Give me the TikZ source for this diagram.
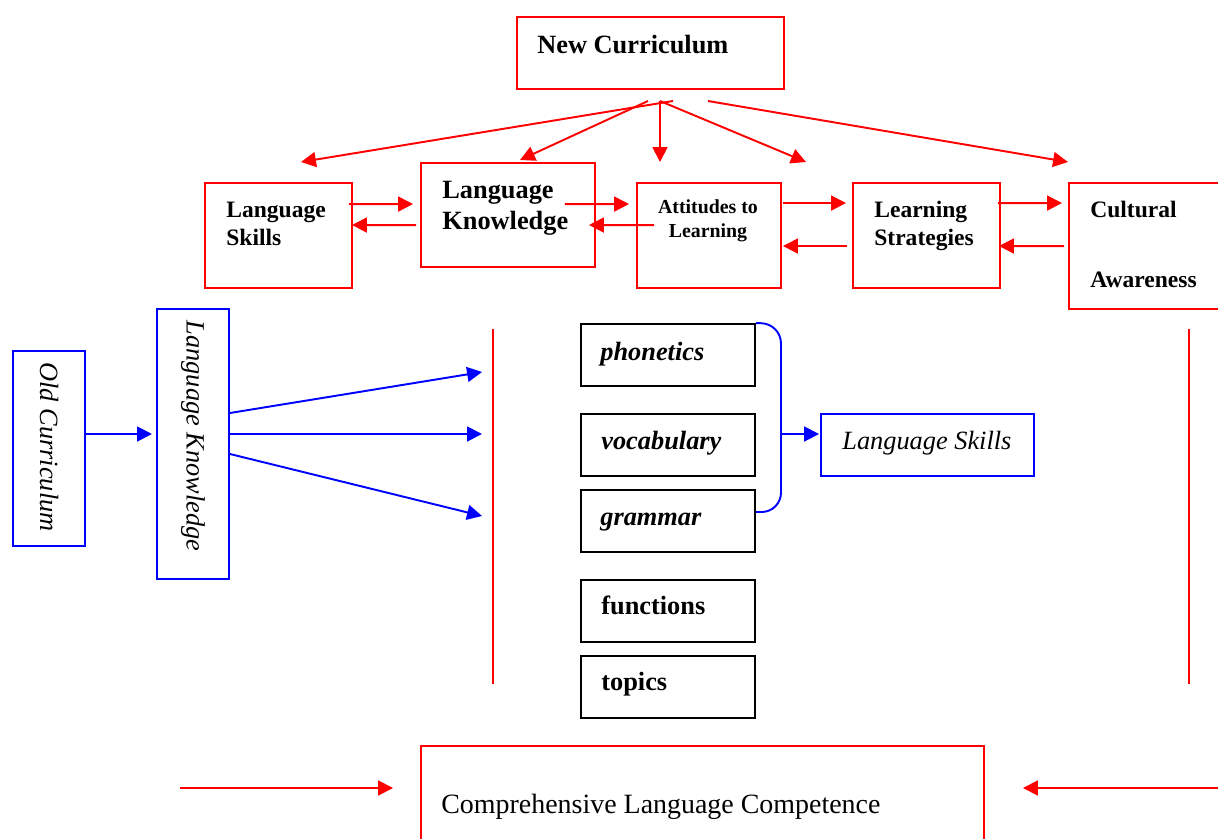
\documentclass[tikz,border=0pt]{standalone}
\usepackage{fontspec}
\setmainfont{Liberation Serif}
\usetikzlibrary{arrows.meta,fit,calc}
\tikzset{
  redbox/.style={draw=red, line width=1.1pt, inner sep=0pt},
  bluebox/.style={draw=blue, line width=1.1pt, inner sep=0pt},
  blackbox/.style={draw=black, line width=1.1pt, inner sep=0pt},
  redarrow/.style={red, line width=1.1pt, -{Triangle[length=8.5pt,width=8.5pt]}},
  bluearrow/.style={blue, line width=1.1pt, -{Triangle[length=8.5pt,width=8.5pt]}},
  redline/.style={red, line width=1.1pt},
  blueline/.style={blue, line width=1.1pt, rounded corners=11pt},
  bigbf/.style={anchor=base west, inner sep=0pt, font=\fontsize{15}{18}\selectfont\bfseries},
  midbf/.style={anchor=base west, inner sep=0pt, font=\fontsize{13.4}{16}\selectfont\bfseries},
  smallbf/.style={anchor=base, inner sep=0pt, font=\fontsize{11.3}{14}\selectfont\bfseries},
  bigbi/.style={anchor=base west, inner sep=0pt, font=\fontsize{15}{18}\selectfont\bfseries\itshape},
  bigit/.style={anchor=base west, inner sep=0pt, font=\fontsize{15}{18}\selectfont\itshape},
  rotit/.style={inner sep=0pt, rotate=-90, font=\fontsize{15}{18}\selectfont\itshape},
  bigrm/.style={anchor=base west, inner sep=0pt, font=\fontsize{15.9}{18}\selectfont}
}
\begin{document}
\begin{tikzpicture}[x=0.02cm, y=-0.02cm]
\useasboundingbox (0,0) rectangle (1218,839);

% new curriculum and its five parts
\node[redbox, fit={(517,17) (784,89)}] (nc) {};
\node[bigbf] (nc-t) at (537,53) {New Curriculum};

\node[redbox, fit={(205,183) (352,288)}] (ls) {};
\node[midbf] (ls-a) at (226,217) {Language};
\node[midbf] (ls-b) at (226,245) {Skills};
\node[redbox, fit={(421,163) (595,267)}] (lk) {};
\node[bigbf] (lk-a) at (442,198) {Language};
\node[bigbf] (lk-b) at (442,229) {Knowledge};
\node[redbox, fit={(637,183) (781,288)}] (att) {};
\node[smallbf] (att-a) at (708,213) {Attitudes to};
\node[smallbf] (att-b) at (708,237) {Learning};
\node[redbox, fit={(853,183) (1000,288)}] (lst) {};
\node[midbf] (lst-a) at (874,217) {Learning};
\node[midbf] (lst-b) at (874,245) {Strategies};
\node[redbox, fit={(1069,183) (1240,309)}] (ca) {};
\node[midbf] (ca-a) at (1090,217) {Cultural};
\node[midbf] (ca-b) at (1090,287) {Awareness};

\coordinate (nc-o1) at (648,101);
\coordinate (nc-o2) at (660,101);
\coordinate (nc-o3) at (673,101);
\coordinate (nc-o4) at (708,101);
\coordinate (ls-t) at (301,162);
\coordinate (lk-t) at (520,160);
\coordinate (att-t) at (660,162);
\coordinate (lst-t) at (806,162);
\coordinate (ca-t) at (1068,162);
\draw[redarrow] (nc-o3) -- (ls-t);
\draw[redarrow] (nc-o1) -- (lk-t);
\draw[redarrow] (nc-o2) -- (att-t);
\draw[redarrow] (nc-o2) -- (lst-t);
\draw[redarrow] (nc-o4) -- (ca-t);

\draw[redarrow] ($(ls.north east)+(-4,22)$) -- ($(lk.north west)+(-7,42)$);
\draw[redarrow] ($(lk.north west)+(-4,63)$) -- ($(ls.north east)+(-1,43)$);
\draw[redarrow] ($(lk.north east)+(-31,42)$) -- ($(att.north west)+(-7,22)$);
\draw[redarrow] ($(att.north west)+(18,43)$) -- ($(lk.north east)+(-7,63)$);
\draw[redarrow] ($(att.north east)+(1,21)$) -- ($(lst.north west)+(-6,21)$);
\draw[redarrow] ($(lst.north west)+(-5,64)$) -- ($(att.north east)+(1,64)$);
\draw[redarrow] ($(lst.north east)+(-3,21)$) -- ($(ca.north west)+(-6,21)$);
\draw[redarrow] ($(ca.north west)+(-4,64)$) -- ($(lst.north east)+(-2,64)$);

% old curriculum
\node[bluebox, fit={(13,351) (85,546)}] (oc) {};
\node[rotit] (oc-t) at (49,447) {Old Curriculum};
\node[bluebox, fit={(157,309) (229,579)}] (lkn) {};
\node[rotit] (lkn-t) at (193,436) {Language Knowledge};
\coordinate (lkn-in) at (152,434);
\draw[bluearrow] (oc.east |- lkn-in) -- (lkn-in);
\coordinate (lkn-t1) at (482,372);
\coordinate (lkn-t2) at (482,434);
\coordinate (lkn-t3) at (482,516);
\draw[bluearrow] ($(lkn.east)+(0,-31)$) -- (lkn-t1);
\draw[bluearrow] (lkn-t2 -| lkn.east) -- (lkn-t2);
\draw[bluearrow] ($(lkn.east)+(0,10)$) -- (lkn-t3);

\draw[redline] (493,329) -- (493,684);
\draw[redline] (1189,329) -- (1189,684);

\node[blackbox, fit={(581,324) (755,386)}] (ph) {};
\node[bigbi] (ph-t) at (600,360) {phonetics};
\node[blackbox, fit={(581,414) (755,476)}] (voc) {};
\node[bigbi] (voc-t) at (601,449) {vocabulary};
\node[blackbox, fit={(581,490) (755,552)}] (gr) {};
\node[bigbi] (gr-t) at (600,525) {grammar};
\node[blackbox, fit={(581,580) (755,642)}] (fn) {};
\node[bigbf] (fn-t) at (601,614) {functions};
\node[blackbox, fit={(581,656) (755,718)}] (tp) {};
\node[bigbf] (tp-t) at (601,690) {topics};

\node[bluebox, fit={(821,414) (1034,476)}] (lsk) {};
\node[bigit] (lsk-t) at (842,449) {Language Skills};
\draw[blueline] (ph.north east) -- (781,324) -- (781,512) -- ($(gr.east)+(0,-9)$);
\coordinate (br) at (781,434);
\draw[bluearrow] (br) -- ($(br -| lsk.west)+(-1,0)$);

% competence
\node[redbox, fit={(421,746) (984,870)}] (clc) {};
\node[bigrm] (clc-t) at (441,813) {Comprehensive Language Competence};
\coordinate (clc-l) at (180,788);
\coordinate (clc-r) at (1218,788);
\draw[redarrow] (clc-l) -- ($(clc-l -| clc.west)+(-27,0)$);
\draw[redarrow] (clc-r) -- ($(clc-r -| clc.east)+(38,0)$);

\end{tikzpicture}
\end{document}
